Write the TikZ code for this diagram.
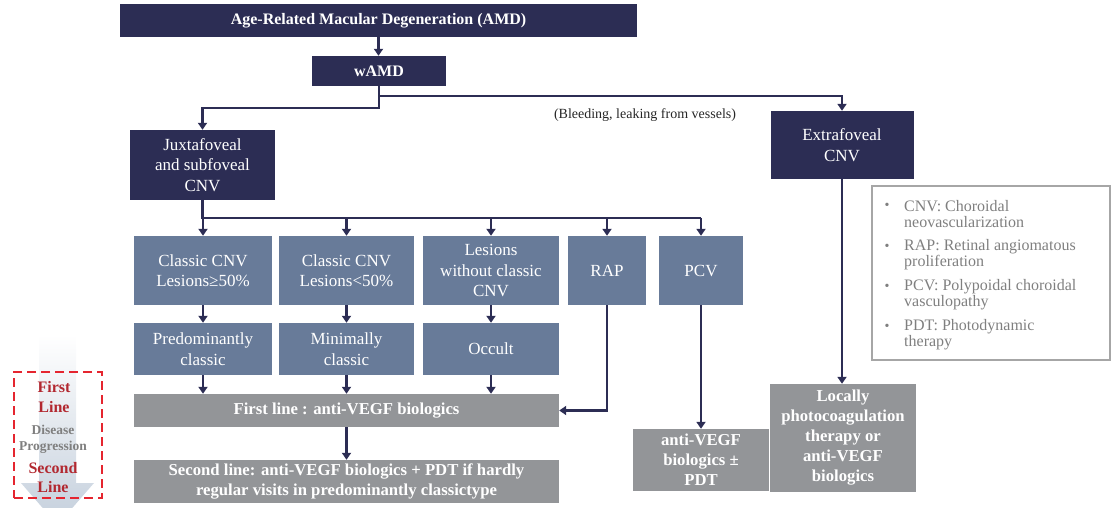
\documentclass[tikz,border=0pt]{standalone}
\usepackage{fontspec}
\setmainfont{Liberation Serif}
\usetikzlibrary{arrows.meta,calc}
\definecolor{navy}{RGB}{44,45,84}
\definecolor{slate}{RGB}{104,123,153}
\definecolor{boxgray}{RGB}{147,149,152}
\definecolor{leggray}{RGB}{166,166,166}
\definecolor{legtext}{RGB}{127,127,127}
\definecolor{dashred}{RGB}{229,37,47}
\definecolor{txtred}{RGB}{178,40,48}
\definecolor{arrowblue}{RGB}{196,207,220}
\begin{document}
\begin{tikzpicture}[x=1pt,y=-1pt,
  box/.style={inner sep=0pt, align=center, text=white, font=\fontsize{17}{20.5}\selectfont},
  navybox/.style={box, fill=navy},
  slatebox/.style={box, fill=slate},
  graybox/.style={box, fill=boxgray, font=\bfseries\fontsize{16.7}{20}\selectfont},
  boldfont/.style={font=\bfseries\fontsize{16}{20}\selectfont},
  conn/.style={draw=navy, line width=2.2pt},
  arr/.style={conn, -{Triangle[width=9pt,length=7pt]}},
  legitem/.style={anchor=west, align=left, inner sep=0pt, text=legtext, font=\fontsize{16}{16}\selectfont},
  legbullet/.style={inner sep=0pt, text=legtext, font=\fontsize{14}{14}\selectfont},
  redtext/.style={align=center, inner sep=0pt, text=txtred, font=\bfseries\fontsize{16}{20}\selectfont},
  progtext/.style={align=center, inner sep=0pt, text=legtext, font=\bfseries\fontsize{13.5}{16}\selectfont},
]
\useasboundingbox (0,0) rectangle (1112,508);

% left progression arrow
\shade[top color=white, bottom color=arrowblue] (39,335) -- (76,335) -- (76,483) -- (94,483) -- (57.5,525) -- (21,483) -- (39,483) -- cycle;
\node[draw=dashred, line width=2pt, dash pattern=on 9pt off 5pt, minimum width=88pt, minimum height=126pt, inner sep=0pt] (progbox) at (58,435) {};
\node[redtext] (firstline) at (54,397) {First\\Line};
\node[progtext] (disprog) at (53,439) {Disease\\Progression};
\node[redtext, font=\bfseries\fontsize{16}{19}\selectfont] (secondline) at (53,478) {Second\\Line};

% main boxes
\node[navybox, boldfont, minimum width=517pt, minimum height=33pt] (amd) at (378.5,20.5) {Age-Related Macular Degeneration (AMD)};
\node[navybox, boldfont, minimum width=134pt, minimum height=30pt] (wamd) at (379,71) {wAMD};
\node[navybox, minimum width=145pt, minimum height=70pt] (juxta) at (202.5,165) {Juxtafoveal\\and subfoveal\\CNV};
\node[navybox, minimum width=143pt, minimum height=68pt] (extra) at (842,145) {Extrafoveal\\CNV};

\node[font=\fontsize{14}{16}\selectfont, text=black!85, inner sep=0pt] (bleed) at (645,115) {(Bleeding, leaking from vessels)};

\node[slatebox, minimum width=138pt, minimum height=69pt] (c1) at (203,270.5) {Classic CNV\\Lesions≥50\%};
\node[slatebox, minimum width=135pt, minimum height=69pt] (c2) at (346.5,270.5) {Classic CNV\\Lesions<50\%};
\node[slatebox, minimum width=136pt, minimum height=69pt] (c3) at (491,270.5) {Lesions\\without classic\\CNV};
\node[slatebox, minimum width=78pt, minimum height=69pt] (rap) at (607,270.5) {RAP};
\node[slatebox, minimum width=84pt, minimum height=69pt] (pcv) at (701,270.5) {PCV};

\node[slatebox, minimum width=138pt, minimum height=52pt] (p1) at (203,349) {Predominantly\\classic};
\node[slatebox, minimum width=135pt, minimum height=52pt] (p2) at (346.5,349) {Minimally\\classic};
\node[slatebox, minimum width=136pt, minimum height=52pt] (p3) at (491,349) {Occult};

\node[graybox, minimum width=425pt, minimum height=33pt] (first) at (346.5,410.5) {First line : anti-VEGF biologics};
\node[graybox, minimum width=425pt, minimum height=43pt] (second) at (346.5,481.5) {Second line: anti-VEGF biologics + PDT if hardly\\regular visits in predominantly classictype};
\node[graybox, minimum width=136pt, minimum height=62pt] (anti) at (701,460) {anti-VEGF\\biologics ±\\PDT};
\node[graybox, minimum width=146pt, minimum height=108pt] (local) at (843,438) {Locally\\photocoagulation\\therapy or\\anti-VEGF\\biologics};

% legend
\node[draw=leggray, line width=1.5pt, minimum width=238pt, minimum height=174pt, inner sep=0pt] (legend) at (991,273) {};
\node[legbullet] (b1) at (887,206) {•};
\node[legitem] (l1) at (904,214) {CNV: Choroidal\\neovascularization};
\node[legbullet] (b2) at (887,247) {•};
\node[legitem] (l2) at (904,255) {RAP: Retinal angiomatous\\proliferation};
\node[legbullet] (b3) at (887,287) {•};
\node[legitem] (l3) at (904,295) {PCV: Polypoidal choroidal\\vasculopathy};
\node[legbullet] (b4) at (887,327) {•};
\node[legitem] (l4) at (904,335) {PDT: Photodynamic\\therapy};

% connectors
\draw[arr] (amd.south) -- (amd.south |- wamd.north);
\coordinate (w1) at (379,108);
\coordinate (w2) at (379,96);
\draw[arr] (wamd.south) -- (w1) -| (juxta.north);
\draw[arr] (w2) -| (extra.north);

\coordinate (k) at (202.5,218);
\draw[conn] (juxta.south) -- (k) -- (pcv.north |- k);
\foreach \n in {c1,c2,c3,rap,pcv}
  \draw[arr] (\n.north |- k) -- (\n.north);
\foreach \a/\b in {c1/p1,c2/p2,c3/p3}
  \draw[arr] (\a.south) -- (\b.north);
\foreach \a in {p1,p2,p3}
  \draw[arr] (\a.south) -- (\a.south |- first.north);
\draw[arr] (rap.south) |- (first.east);
\draw[arr] (pcv.south) -- (anti.north);
\draw[arr] (first.south) -- (second.north);
\draw[arr] (extra.south) -- (extra.south |- local.north);
\end{tikzpicture}
\end{document}
